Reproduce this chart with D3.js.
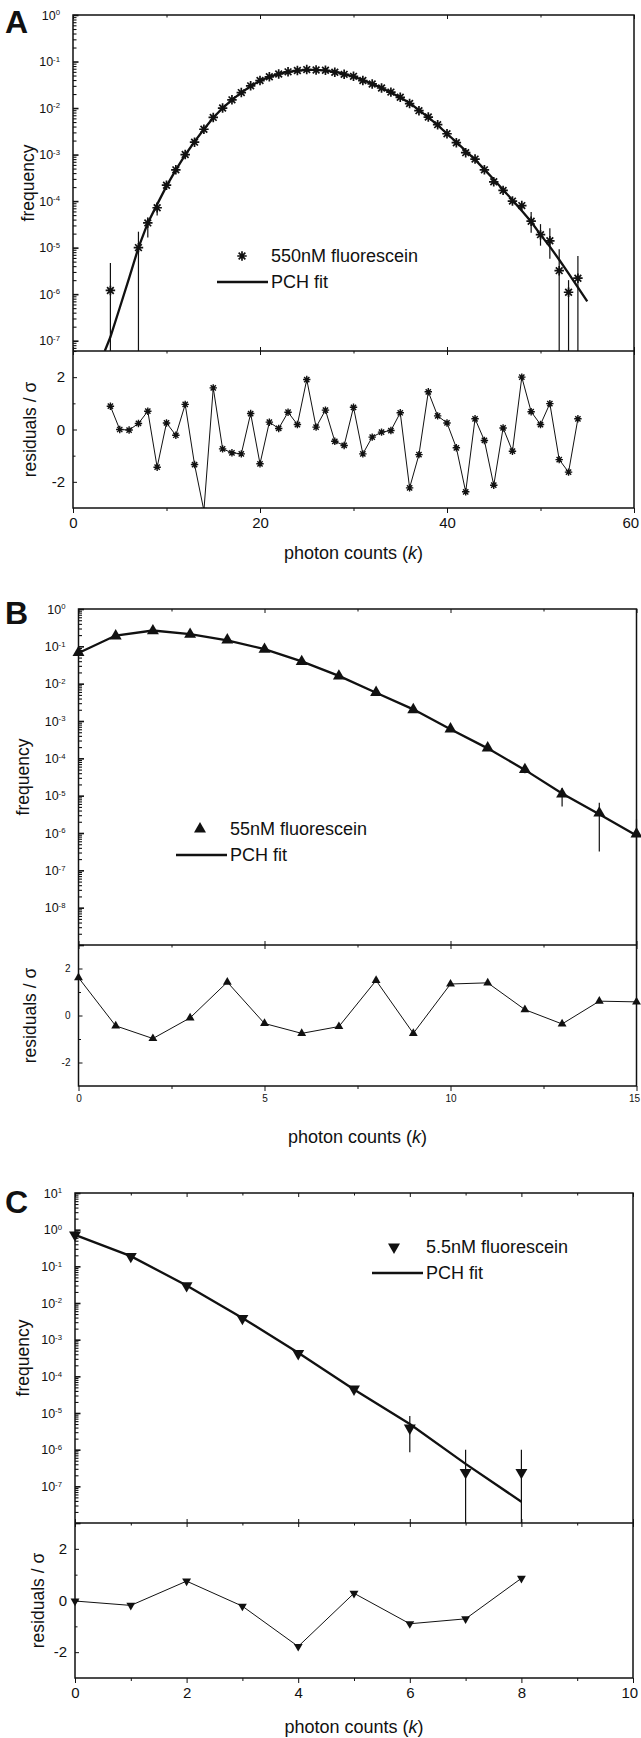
<!DOCTYPE html>
<html>
<head>
<meta charset="utf-8">
<script src="https://cdn.jsdelivr.net/npm/d3@7"></script>
<style>
  body { margin: 0; background: #fff; }
  svg { display: block; }
  text { font-family: "Liberation Sans", Arial, Helvetica, sans-serif; fill: #111; }
</style>
</head>
<body>
<svg width="641" height="1738"></svg>
<script>
// ---------- Panel A : 550nM fluorescein ----------
var aK = [4, 7, 8, 9, 10, 11, 12, 13, 14, 15, 16, 17, 18, 19, 20, 21, 22, 23, 24, 25,
          26, 27, 28, 29, 30, 31, 32, 33, 34, 35, 36, 37, 38, 39, 40, 41, 42, 43, 44, 45,
          46, 47, 48, 49, 50, 51, 52, 53, 54];
var aFreq = [1.2e-6, 1.0e-5, 3.4e-5, 7.2e-5, 2.2e-4, 4.7e-4, 1.0e-3, 1.85e-3, 3.5e-3, 6.3e-3,
             1.0e-2, 1.5e-2, 2.15e-2, 3.0e-2, 3.9e-2, 4.7e-2, 5.4e-2, 6.0e-2, 6.4e-2, 6.7e-2,
             6.6e-2, 6.5e-2, 5.9e-2, 5.3e-2, 4.8e-2, 3.9e-2, 3.3e-2, 2.7e-2, 2.2e-2, 1.7e-2,
             1.25e-2, 8.8e-3, 6.4e-3, 4.4e-3, 2.8e-3, 1.8e-3, 1.1e-3, 8.0e-4, 4.7e-4, 2.6e-4,
             1.7e-4, 1.0e-4, 8.0e-5, 3.7e-5, 1.9e-5, 1.4e-5, 3.2e-6, 1.1e-6, 2.2e-6];
var aFitK = [3.4, 4, 5, 6, 7, 8, 9, 10, 11, 12, 13, 14, 15, 16, 17, 18, 19, 20, 21, 22, 23, 24,
             25, 26, 27, 28, 29, 30, 31, 32, 33, 34, 35, 36, 37, 38, 39, 40, 41, 42, 43, 44,
             45, 46, 47, 48, 49, 50, 51, 52, 53, 54, 55];
var aFit = [6e-8, 1.2e-7, 5.1e-7, 2.2e-6, 1.0e-5, 3.4e-5, 8.5e-5, 2.1e-4, 4.7e-4, 9.8e-4, 1.9e-3,
            3.5e-3, 6.2e-3, 1.0e-2, 1.5e-2, 2.15e-2, 2.95e-2, 3.85e-2, 4.7e-2, 5.4e-2, 6.0e-2,
            6.4e-2, 6.6e-2, 6.6e-2, 6.4e-2, 6.0e-2, 5.4e-2, 4.75e-2, 4.0e-2, 3.3e-2, 2.7e-2,
            2.15e-2, 1.68e-2, 1.28e-2, 9.0e-3, 6.3e-3, 4.3e-3, 2.8e-3, 1.85e-3, 1.2e-3, 7.8e-4,
            4.8e-4, 2.9e-4, 1.75e-4, 1.05e-4, 6.2e-5, 3.6e-5, 1.9e-5, 1.05e-5, 5.5e-6, 2.8e-6,
            1.4e-6, 7e-7];
var aErrK  = [4, 7, 8, 9, 49, 50, 51, 52, 53, 54];
var aErrHi = [4.7e-6, 2.2e-5, 4.5e-5, 9.5e-5, 5.8e-5, 3.2e-5, 2.6e-5, 9.2e-6, 2.0e-6, 6.6e-6];
var aErrLo = [0, 0, 1.65e-5, 4.9e-5, 2.1e-5, 1.1e-5, 5.8e-6, 0, 0, 0];   // 0 = bar runs off the axis
var aResK = [4, 5, 6, 7, 8, 9, 10, 11, 12, 13, 14, 15, 16, 17, 18, 19, 20, 21, 22, 23, 24, 25,
             26, 27, 28, 29, 30, 31, 32, 33, 34, 35, 36, 37, 38, 39, 40, 41, 42, 43, 44, 45,
             46, 47, 48, 49, 50, 51, 52, 53, 54];
var aRes = [0.89, 0.0, -0.02, 0.23, 0.70, -1.44, 0.25, -0.22, 0.96, -1.34, -3.1, 1.59, -0.74,
            -0.89, -0.93, 0.61, -1.31, 0.28, 0.04, 0.66, 0.19, 1.91, 0.09, 0.74, -0.45, -0.61,
            0.85, -0.93, -0.29, -0.10, -0.04, 0.64, -2.23, -0.96, 1.44, 0.52, 0.25, -0.70, -2.38,
            0.41, -0.42, -2.13, 0.06, -0.83, 2.0, 0.68, 0.19, 0.99, -1.15, -1.63, 0.41];

// ---------- Panel B : 55nM fluorescein ----------
var bK = [0, 1, 2, 3, 4, 5, 6, 7, 8, 9, 10, 11, 12, 13, 14, 15];
var bFreq = [6.8e-2, 0.19, 0.26, 0.21, 0.148, 8.3e-2, 3.9e-2, 1.6e-2, 5.8e-3, 2.0e-3,
             6.1e-4, 1.9e-4, 5.0e-5, 1.1e-5, 3.4e-6, 9.4e-7];
var bFit = [6.6e-2, 0.195, 0.265, 0.212, 0.145, 8.4e-2, 3.95e-2, 1.62e-2, 5.7e-3, 2.05e-3,
            6.0e-4, 1.85e-4, 4.9e-5, 1.15e-5, 3.2e-6, 8.6e-7];
var bErrK  = [12, 13, 14, 15];
var bErrHi = [6.0e-5, 1.6e-5, 6.5e-6, 2.3e-6];
var bErrLo = [4.0e-5, 5.1e-6, 3.2e-7, 0];
var bRes = [1.61, -0.44, -0.98, -0.10, 1.42, -0.34, -0.76, -0.47, 1.49, -0.76, 1.34, 1.39,
            0.25, -0.36, 0.61, 0.58];

// ---------- Panel C : 5.5nM fluorescein ----------
var cK = [0, 1, 2, 3, 4, 5, 6, 7, 8];
var cFreq = [0.72, 0.186, 2.97e-2, 3.8e-3, 4.2e-4, 4.5e-5, 3.9e-6, 2.4e-7, 2.4e-7];
var cFit = [0.72, 0.19, 3.0e-2, 3.9e-3, 4.4e-4, 4.4e-5, 5.0e-6, 4.1e-7, 3.8e-8];
var cErrK  = [6, 7, 8];
var cErrHi = [8.3e-6, 1.0e-6, 1.0e-6];
var cErrLo = [8.5e-7, 0, 0];
var cRes = [-0.02, -0.19, 0.75, -0.22, -1.78, 0.28, -0.90, -0.71, 0.86];

// ---------- Layout (positions / sizes only) ----------
var layoutA = {letter: "A", left: 73, right: 634, top: 15, mid: 351, bottom: 508,
  xDomain: [0, 60], yDomain: [6e-8, 1], xMajor: [0, 20, 40, 60], xMinor: [10, 30, 50],
  letterY: 33, xTickFont: 15, resTickFont: 15, freqTitleX: 28, resTitleX: 30, xTitleY: 559,
  legX: 242, legY: 256, legLine: [217, 268], marker: "star", leg: "550nM fluorescein"};
var layoutB = {letter: "B", left: 78.5, right: 636.5, top: 609, mid: 945, bottom: 1086,
  xDomain: [0, 15], yDomain: [1e-9, 1], xMajor: [0, 5, 10, 15], xMinor: [2.5, 7.5, 12.5],
  letterY: 624, xTickFont: 10, resTickFont: 10, freqTitleX: 23, resTitleX: 30, xTitleY: 1143,
  legX: 200, legY: 829, legLine: [176, 227], marker: "up", leg: "55nM fluorescein"};
var layoutC = {letter: "C", left: 75, right: 633, top: 1193, mid: 1523, bottom: 1678,
  xDomain: [0, 10], yDomain: [1e-8, 10], xMajor: [0, 2, 4, 6, 8, 10], xMinor: [1, 3, 5, 7, 9],
  letterY: 1213, xTickFont: 15, resTickFont: 15, freqTitleX: 23, resTitleX: 38, xTitleY: 1733,
  legX: 394, legY: 1247, legLine: [372, 423], marker: "down", leg: "5.5nM fluorescein"};

var svg = d3.select("svg");
var ink = "#111";

// asterisk marker used for panel A
var symbolAsterisk = {
  draw: function(ctx, size) {
    var r = Math.sqrt(size) / 2;
    for (var i = 0; i < 4; i++) {
      var a = i * Math.PI / 4;
      ctx.moveTo(-r * Math.cos(a), -r * Math.sin(a));
      ctx.lineTo(r * Math.cos(a), r * Math.sin(a));
    }
  }
};

function addMarker(sel, kind, cx, cy, big) {
  if (kind == "star") {
    sel.append("path")
      .attr("d", d3.symbol(symbolAsterisk, big ? 90 : 55)())
      .attr("transform", "translate(" + cx + "," + cy + ")")
      .attr("fill", "none").attr("stroke", ink).attr("stroke-width", big ? 1.7 : 1.4);
  } else {
    sel.append("path")
      .attr("d", d3.symbol(d3.symbolTriangle, big ? 62 : 34)())
      .attr("transform", "translate(" + cx + "," + cy + ")" + (kind == "down" ? " rotate(180)" : ""))
      .attr("fill", ink);
  }
}

function supLabel(textSel, v) {
  textSel.text(null);
  textSel.append("tspan").text("10");
  textSel.append("tspan").attr("dy", "-0.55em").attr("font-size", "0.62em")
    .text(Math.round(Math.log10(v)));
}

function drawPanel(L, kUp, freq, fitK, fit, errK, errHi, errLo, resK, res) {
  var x = d3.scaleLinear().domain(L.xDomain).range([L.left, L.right]);
  var y = d3.scaleLog().domain(L.yDomain).range([L.mid, L.top]);
  var r = d3.scaleLinear().domain([-3, 3]).range([L.bottom, L.mid]);
  var g = svg.append("g");

  // clipping for lines that leave the plot vertically
  g.append("clipPath").attr("id", "cu" + L.letter).append("rect")
    .attr("x", L.left - 12).attr("y", L.top).attr("width", L.right - L.left + 24).attr("height", L.mid - L.top);
  g.append("clipPath").attr("id", "cr" + L.letter).append("rect")
    .attr("x", L.left - 12).attr("y", L.mid).attr("width", L.right - L.left + 24).attr("height", L.bottom - L.mid);

  // --- axes ---
  var logTicks = y.ticks();
  var major = logTicks.filter(function(v) { return Math.abs(Math.log10(v) - Math.round(Math.log10(v))) < 1e-6; });
  var minor = logTicks.filter(function(v) { return major.indexOf(v) < 0; });

  var clean = function(a) { a.select(".domain").remove(); a.selectAll("line").attr("stroke", ink); };

  var mAx = g.append("g").attr("transform", "translate(" + L.left + ",0)")
    .call(d3.axisLeft(y).tickValues(minor).tickSizeInner(-3.5).tickSizeOuter(0).tickFormat(""))
    .call(clean);
  mAx.selectAll("line").attr("stroke-width", 1.1);
  var yAx = g.append("g").attr("transform", "translate(" + L.left + ",0)")
    .call(d3.axisLeft(y).tickValues(major).tickSizeInner(-5.5).tickSizeOuter(0).tickPadding(13))
    .call(clean);
  yAx.selectAll("line").attr("stroke-width", 1.6);
  yAx.selectAll(".tick").filter(function(v) { return y(v) > L.mid - 3; }).select("text").remove();
  yAx.selectAll(".tick text").each(function(v) { supLabel(d3.select(this), v); })
    .attr("font-size", 12.5).attr("fill", ink);

  // residual y axis
  var rAx = g.append("g").attr("transform", "translate(" + L.left + ",0)")
    .call(d3.axisLeft(r).tickValues([-2, 0, 2]).tickSizeInner(-4).tickSizeOuter(0).tickPadding(8)
      .tickFormat(function(d) { return d < 0 ? "-" + (-d) : d; }))
    .call(clean);
  rAx.selectAll("text").attr("font-size", L.resTickFont).attr("fill", ink);
  g.append("g").attr("transform", "translate(" + L.left + ",0)")
    .call(d3.axisLeft(r).tickValues([-1, 1]).tickSizeInner(-2.5).tickSizeOuter(0).tickFormat(""))
    .call(clean);

  // x axes: bottom (labelled, outward) and inward ticks at the top and at the divider
  var xAx = g.append("g").attr("transform", "translate(0," + L.bottom + ")")
    .call(d3.axisBottom(x).tickValues(L.xMajor).tickSizeInner(5).tickSizeOuter(0).tickPadding(4))
    .call(clean);
  xAx.selectAll("text").attr("font-size", L.xTickFont).attr("fill", ink)
    .attr("dx", function(d) { return d == L.xDomain[1] ? "-0.25em" : null; });
  g.append("g").attr("transform", "translate(0," + L.bottom + ")")
    .call(d3.axisBottom(x).tickValues(L.xMinor).tickSizeInner(3).tickSizeOuter(0).tickFormat(""))
    .call(clean);
  [L.top, L.mid].forEach(function(yy) {
    g.append("g").attr("transform", "translate(0," + yy + ")")
      .call(d3.axisBottom(x).tickValues(L.xMajor).tickSizeInner(4).tickSizeOuter(0).tickFormat(""))
      .call(clean);
    g.append("g").attr("transform", "translate(0," + yy + ")")
      .call(d3.axisBottom(x).tickValues(L.xMinor).tickSizeInner(2.5).tickSizeOuter(0).tickFormat(""))
      .call(clean);
  });
  g.append("g").attr("transform", "translate(0," + L.mid + ")")
    .call(d3.axisTop(x).tickValues(L.xMajor).tickSizeInner(4).tickSizeOuter(0).tickFormat(""))
    .call(clean);

  // frame and divider
  g.append("rect").attr("x", L.left).attr("y", L.top)
    .attr("width", L.right - L.left).attr("height", L.bottom - L.top)
    .attr("fill", "none").attr("stroke", ink).attr("stroke-width", 1.5);
  g.append("line").attr("x1", L.left).attr("x2", L.right).attr("y1", L.mid).attr("y2", L.mid)
    .attr("stroke", ink).attr("stroke-width", 1.5);

  // --- upper panel: error bars, fit, data ---
  var up = g.append("g").attr("clip-path", "url(#cu" + L.letter + ")");
  errK.forEach(function(k, i) {
    up.append("line").attr("x1", x(k)).attr("x2", x(k))
      .attr("y1", y(errHi[i])).attr("y2", errLo[i] > 0 ? y(errLo[i]) : L.mid + 5)
      .attr("stroke", ink).attr("stroke-width", 1.2);
  });
  up.append("path")
    .datum(fitK.map(function(k, i) { return [k, fit[i]]; }))
    .attr("d", d3.line().x(function(d) { return x(d[0]); }).y(function(d) { return y(d[1]); }))
    .attr("fill", "none").attr("stroke", ink).attr("stroke-width", 2.3);
  var pts = g.append("g");
  kUp.forEach(function(k, i) { addMarker(pts, L.marker, x(k), y(freq[i]), true); });

  // --- residual panel ---
  var lo = g.append("g").attr("clip-path", "url(#cr" + L.letter + ")");
  lo.append("path")
    .datum(resK.map(function(k, i) { return [k, res[i]]; }))
    .attr("d", d3.line().x(function(d) { return x(d[0]); }).y(function(d) { return r(d[1]); }))
    .attr("fill", "none").attr("stroke", ink).attr("stroke-width", 1);
  resK.forEach(function(k, i) { addMarker(lo, L.marker, x(k), r(res[i]), false); });

  // --- legend ---
  addMarker(g, L.marker, L.legX, L.legY, true);
  g.append("text").attr("x", L.legLine[1] + 3).attr("y", L.legY).attr("dy", "0.35em")
    .attr("font-size", 18).text(L.leg);
  g.append("line").attr("x1", L.legLine[0]).attr("x2", L.legLine[1])
    .attr("y1", L.legY + 26).attr("y2", L.legY + 26).attr("stroke", ink).attr("stroke-width", 2.3);
  g.append("text").attr("x", L.legLine[1] + 3).attr("y", L.legY + 26).attr("dy", "0.35em")
    .attr("font-size", 18).text("PCH fit");

  // --- titles ---
  g.append("text").attr("transform", "translate(" + L.freqTitleX + "," + ((L.top + L.mid) / 2) + ") rotate(-90)")
    .attr("text-anchor", "middle").attr("dy", "0.35em").attr("font-size", 17.5).text("frequency");
  g.append("text").attr("transform", "translate(" + L.resTitleX + "," + ((L.mid + L.bottom) / 2) + ") rotate(-90)")
    .attr("text-anchor", "middle").attr("dy", "0.35em").attr("font-size", 17.5).text("residuals / \u03c3");
  var xt = g.append("text").attr("x", (L.left + L.right) / 2).attr("y", L.xTitleY)
    .attr("text-anchor", "middle").attr("font-size", 18);
  xt.append("tspan").text("photon counts (");
  xt.append("tspan").attr("font-style", "italic").text("k");
  xt.append("tspan").text(")");

  g.append("text").attr("x", 5).attr("y", L.letterY).attr("font-size", 32)
    .attr("font-weight", "bold").text(L.letter);
}

drawPanel(layoutA, aK, aFreq, aFitK, aFit, aErrK, aErrHi, aErrLo, aResK, aRes);
drawPanel(layoutB, bK, bFreq, bK, bFit, bErrK, bErrHi, bErrLo, bK, bRes);
drawPanel(layoutC, cK, cFreq, cK, cFit, cErrK, cErrHi, cErrLo, cK, cRes);
</script>
</body>
</html>
